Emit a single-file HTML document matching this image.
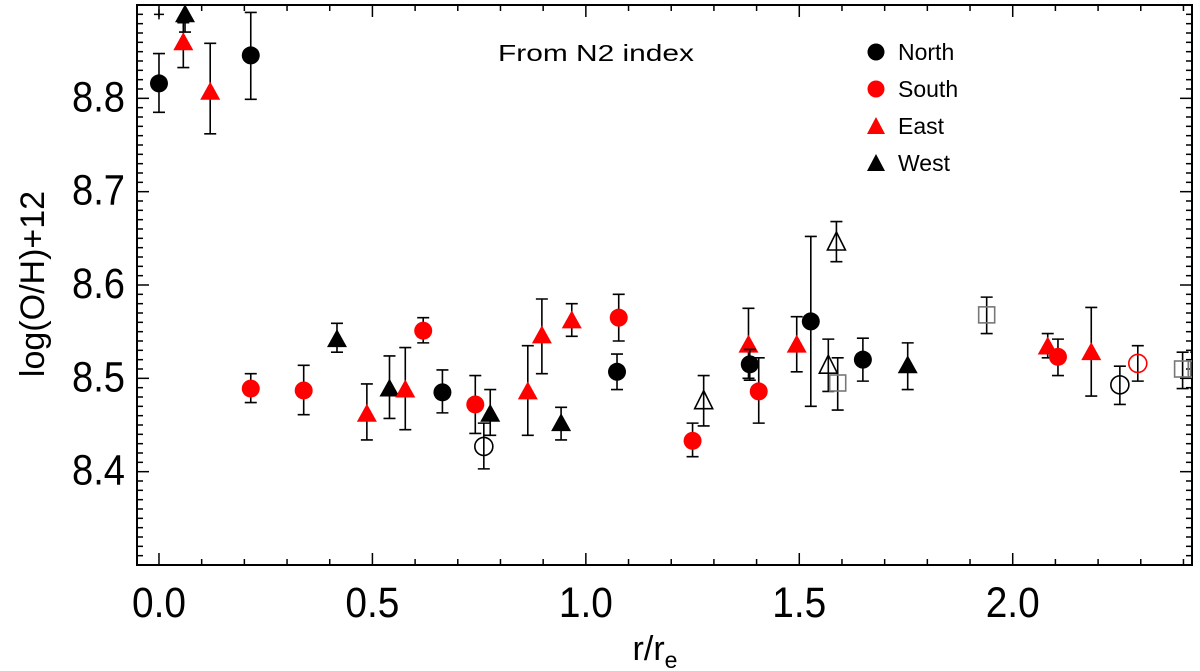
<!DOCTYPE html>
<html><head><meta charset="utf-8">
<style>
html,body{margin:0;padding:0;background:#fff;}
svg{display:block;font-family:"Liberation Sans",Arial,sans-serif;}
</style></head>
<body>
<svg id="chart" width="1200" height="671" viewBox="0 0 1200 671" xmlns="http://www.w3.org/2000/svg">
<g id="axes"></g>
<g id="marks"></g>
<text x="498" y="61" font-size="23" textLength="196" lengthAdjust="spacingAndGlyphs">From N2 index</text>
<g>
  <circle cx="876" cy="52" r="8.5" fill="#000"/>
  <text x="898" y="60" font-size="23">North</text>
  <circle cx="876" cy="89" r="8.5" fill="#f00"/>
  <text x="898" y="97" font-size="23">South</text>
  <polygon points="876,117 885,134 867,134" fill="#f00"/>
  <text x="898" y="134" font-size="23">East</text>
  <polygon points="876,154 885,171 867,171" fill="#000"/>
  <text x="898" y="171" font-size="23">West</text>
</g>
<text transform="translate(44,284) rotate(-90)" text-anchor="middle" font-size="34">log(O/H)+12</text>
<text x="655" y="660" text-anchor="middle" font-size="34">r/r<tspan font-size="23" dy="8">e</tspan></text>
</svg>
<script>
const xTicks = [0.0, 0.5, 1.0, 1.5, 2.0];
const xTickLabels = ["0.0", "0.5", "1.0", "1.5", "2.0"];
const yTicks = [8.4, 8.5, 8.6, 8.7, 8.8];
const yTickLabels = ["8.4", "8.5", "8.6", "8.7", "8.8"];
// marker types: N=north(black circle), S=south(red circle), E=east(red tri), W=west(black tri),
// oc=open black circle, orc=open red circle, ot=open triangle, sq=gray square
const pointTypes = ["W","E","N","E","N","S","S","W","E","W","E","S","N","S","oc","W","E","E","W","E","N","S","S","ot","E","N","S","E","N","ot","ot","sq","N","W","sq","E","S","E","oc","orc","sq","sq"];
const xValues = [0.061,0.057,0.0,0.12,0.215,0.215,0.339,0.417,0.487,0.540,0.577,0.619,0.664,0.741,0.761,0.776,0.864,0.897,0.942,0.967,1.073,1.077,1.250,1.276,1.381,1.384,1.405,1.494,1.527,1.587,1.568,1.590,1.649,1.754,1.939,2.082,2.106,2.184,2.251,2.293,2.398,2.430];
const yValues = [8.889,8.859,8.816,8.806,8.846,8.489,8.487,8.541,8.461,8.488,8.487,8.551,8.485,8.472,8.427,8.461,8.485,8.545,8.451,8.561,8.507,8.565,8.433,8.475,8.535,8.515,8.486,8.535,8.561,8.645,8.513,8.495,8.520,8.513,8.568,8.533,8.523,8.527,8.493,8.516,8.510,8.510];
const yErrHi = [8.93,8.881,8.848,8.859,8.892,8.505,8.514,8.559,8.494,8.524,8.533,8.565,8.509,8.503,8.452,8.488,8.535,8.585,8.469,8.580,8.526,8.590,8.452,8.503,8.575,8.531,8.522,8.566,8.652,8.668,8.542,8.522,8.543,8.538,8.587,8.548,8.542,8.576,8.513,8.535,8.528,8.528];
const yErrLo = [8.871,8.833,8.785,8.762,8.799,8.474,8.461,8.528,8.434,8.457,8.445,8.538,8.463,8.441,8.403,8.439,8.439,8.505,8.434,8.545,8.488,8.540,8.416,8.449,8.500,8.498,8.452,8.507,8.470,8.625,8.486,8.466,8.497,8.488,8.548,8.522,8.503,8.481,8.472,8.497,8.489,8.489];

const L=137,R=1192,T=5,B=565;
const X0=-0.0515,X1=2.42,Y0=8.3,Y1=8.9;
const sx=v=>L+(v-X0)/(X1-X0)*(R-L);
const sy=v=>B-(v-Y0)/(Y1-Y0)*(B-T);
const NS="http://www.w3.org/2000/svg";
function mk(tag,attrs,parent){const e=document.createElementNS(NS,tag);for(const k in attrs)e.setAttribute(k,attrs[k]);parent.appendChild(e);return e;}

const axes=document.getElementById('axes');
const frame=mk('rect',{x:L,y:T,width:R-L,height:B-T,fill:'none',stroke:'#000','stroke-width':2},axes);


for(let i=0;i<=24;i++){
  const v=i/10; const x=sx(v); if(x>R) break;
  const major=(i%5===0); const len=major?12:6;
  const t1=mk('line',{x1:x,y1:B,x2:x,y2:B-len,stroke:'#000','stroke-width':1.5},axes);
  
  
  const t2=mk('line',{x1:x,y1:T,x2:x,y2:T+len,stroke:'#000','stroke-width':1.5},axes);
  
  
}
xTicks.forEach((v,i)=>{
  const t=mk('text',{x:sx(v),y:617,'text-anchor':'middle','font-size':43,textLength:54,lengthAdjust:'spacingAndGlyphs'},axes);
  t.textContent=xTickLabels[i];
  
  
});
for(let i=0;i<=60;i++){
  const v=8.3+i/100; const y=sy(v);
  const major=(i%10===0); const len=major?12:6;
  const t1=mk('line',{x1:L,y1:y,x2:L+len,y2:y,stroke:'#000','stroke-width':1.5},axes);
  
  
  const t2=mk('line',{x1:R,y1:y,x2:R-len,y2:y,stroke:'#000','stroke-width':1.5},axes);
  
  
}
yTicks.forEach((v,i)=>{
  const t=mk('text',{x:72,y:sy(v)+13,'font-size':43,textLength:53,lengthAdjust:'spacingAndGlyphs'},axes);
  t.textContent=yTickLabels[i];
  
  
});

const marks=document.getElementById('marks');
const clip=mk('clipPath',{id:'pc'},document.getElementById('chart'));
mk('rect',{x:L,y:T,width:R-L,height:B-T},clip);
marks.setAttribute('clip-path','url(#pc)');
const plus=mk('path',{d:`M${sx(0)-5},${sy(8.89)}h10M${sx(0)},${sy(8.89)-5}v10`,stroke:'#000','stroke-width':1.5},marks);



pointTypes.forEach((tp,i)=>{
  const x=sx(xValues[i]), y=sy(yValues[i]);
  const g=mk('g',{},marks);
  
  
  const yh=sy(yErrHi[i]), yl=sy(yErrLo[i]);
  mk('path',{d:`M${x},${yh}V${yl}M${x-6},${yh}h12M${x-6},${yl}h12`,stroke:'#000','stroke-width':1.6,fill:'none'},g);
  if(tp==='N'||tp==='S'){
    mk('circle',{cx:x,cy:y,r:9,fill:tp==='N'?'#000':'#f00'},g);
  } else if(tp==='E'||tp==='W'){
    mk('polygon',{points:`${x},${y-11} ${x+10},${y+7} ${x-10},${y+7}`,fill:tp==='W'?'#000':'#f00'},g);
  } else if(tp==='oc'||tp==='orc'){
    mk('circle',{cx:x,cy:y,r:9,fill:'none',stroke:tp==='oc'?'#000':'#f00','stroke-width':1.6},g);
  } else if(tp==='ot'){
    mk('polygon',{points:`${x},${y-11} ${x+9},${y+7} ${x-9},${y+7}`,fill:'none',stroke:'#000','stroke-width':1.6},g);
  } else if(tp==='sq'){
    mk('rect',{x:x-8,y:y-8,width:16,height:16,fill:'none',stroke:'#777','stroke-width':1.6},g);
  }
});
</script>
</body></html>
